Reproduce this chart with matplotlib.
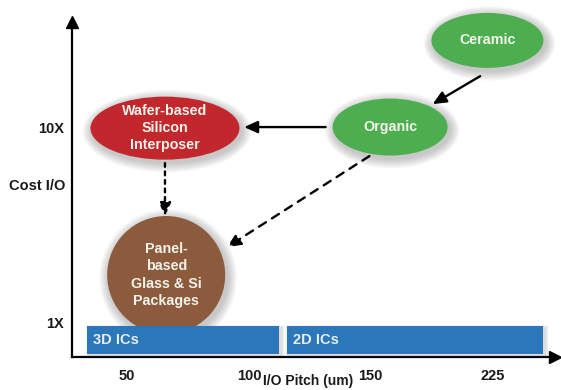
import matplotlib.pyplot as plt
from matplotlib.patches import Ellipse

plt.rcParams['font.family'] = ['Liberation Sans', 'DejaVu Sans']
plt.rcParams['font.weight'] = 'bold'
plt.rcParams['axes.labelweight'] = 'bold'

# x = position on the I/O pitch axis (one tick per unit), y = relative cost per I/O
pitch_ticks = [1, 2, 3, 4]
pitch_labels = ['50', '100', '150', '225']
cost_ticks = [1, 10]
cost_labels = ['1X', '10X']

node_names = ['Ceramic', 'Organic', 'Wafer-based\nSilicon\nInterposer',
              'Panel-\nbased\nGlass & Si\nPackages']
node_pitch = [3.96, 3.16, 1.31, 1.32]
node_cost = [14.0, 10.0, 9.95, 3.17]
node_colors = ['#4cae4f', '#4cae4f', '#c1272d', '#8c5a3c']

ic_names = ['3D ICs', '2D ICs']
ic_start = [0.67, 2.31]
ic_end = [2.25, 4.42]
ic_cost = 0.17

# connectors between the nodes
arrow_from_pitch = [3.90, 2.63, 1.31, 2.99]
arrow_from_cost = [12.35, 10.0, 8.34, 8.66]
arrow_to_pitch = [3.51, 1.96, 1.31, 1.82]
arrow_to_cost = [11.06, 10.0, 5.89, 4.46]
arrow_styles = ['-', '-', (0, (1.6, 2.0)), (0, (3.5, 3.0))]

# node sizes in pixels (drawing style)
node_w_px = [112, 115, 149, 118]
node_h_px = [55, 57, 63, 118]

fig = plt.figure(figsize=(5.61, 3.90), dpi=100)
ax = fig.add_axes([72 / 561, 33 / 390, 483 / 561, 335 / 390])
ax.set_xlim(0.546, 4.515)
ax.set_ylim(-0.614, 14.85)

# pixel -> data units
dx = (4.515 - 0.546) / 483
dy = (14.85 + 0.614) / 335

for s in ['top', 'right']:
    ax.spines[s].set_visible(False)
for s in ['left', 'bottom']:
    ax.spines[s].set_linewidth(1.6)
    ax.spines[s].set_color('black')
ax.plot(1, 0, '>', color='black', ms=8, transform=ax.transAxes, clip_on=False)
ax.plot(0, 1, '^', color='black', ms=8, transform=ax.transAxes, clip_on=False)

ax.set_xticks(pitch_ticks)
ax.set_xticklabels(pitch_labels)
ax.set_yticks(cost_ticks)
ax.set_yticklabels(cost_labels)
ax.tick_params(length=0, labelsize=10.5, colors='#1a1a1a')
ax.tick_params(axis='x', pad=9)
ax.tick_params(axis='y', pad=6)
ax.set_xlabel('I/O Pitch (um)', fontsize=10, color='#1a1a1a', va='top')
ax.xaxis.set_label_coords(0.489, -0.051)
ax.set_ylabel('Cost I/O', fontsize=10.5, color='#1a1a1a', rotation=0, ha='right', va='center')
ax.yaxis.set_label_coords(-0.013, 0.509)

# nodes with soft shadow
for name, x, y, c, w, h in zip(node_names, node_pitch, node_cost, node_colors, node_w_px, node_h_px):
    for i in range(9):
        grow = 2 + i * 2.2
        ax.add_patch(Ellipse((x + 2 * dx, y - 3 * dy), (w + grow) * dx, (h + grow) * dy,
                             facecolor='#555555', edgecolor='none', alpha=0.04,
                             zorder=1, clip_on=False))
    ax.add_patch(Ellipse((x, y), w * dx, h * dy, facecolor=c, edgecolor='none',
                         zorder=2, clip_on=False))
    ax.text(x, y, name, ha='center', va='center', fontsize=10.3, color='#f3f3ea',
            linespacing=1.3, zorder=3)

# IC bars
for i in range(4):
    grow = 1.5 + i * 1.5
    ax.barh(ic_cost - 2 * dy, [e - s + grow * dx for s, e in zip(ic_start, ic_end)],
            height=1.29 + grow * dy, left=[s - grow / 2 * dx + 2 * dx for s in ic_start],
            color='#555555', alpha=0.05, zorder=3)
ax.barh(ic_cost, [e - s for s, e in zip(ic_start, ic_end)], height=1.29,
        left=ic_start, color='#2b77b9', zorder=4)
for name, s in zip(ic_names, ic_start):
    ax.text(s + 6 * dx, ic_cost, name, ha='left', va='center', fontsize=10.5,
            color='#e8eff7', zorder=5)

# connectors
for x0, y0, x1, y1, ls in zip(arrow_from_pitch, arrow_from_cost, arrow_to_pitch,
                              arrow_to_cost, arrow_styles):
    ax.annotate('', xy=(x1, y1), xytext=(x0, y0),
                arrowprops=dict(arrowstyle='-|>,head_length=0.4,head_width=0.18',
                                mutation_scale=20, lw=1.7, color='black',
                                linestyle=ls, shrinkA=0, shrinkB=0),
                zorder=6)

fig.savefig('out.png', dpi=100, facecolor='white')
